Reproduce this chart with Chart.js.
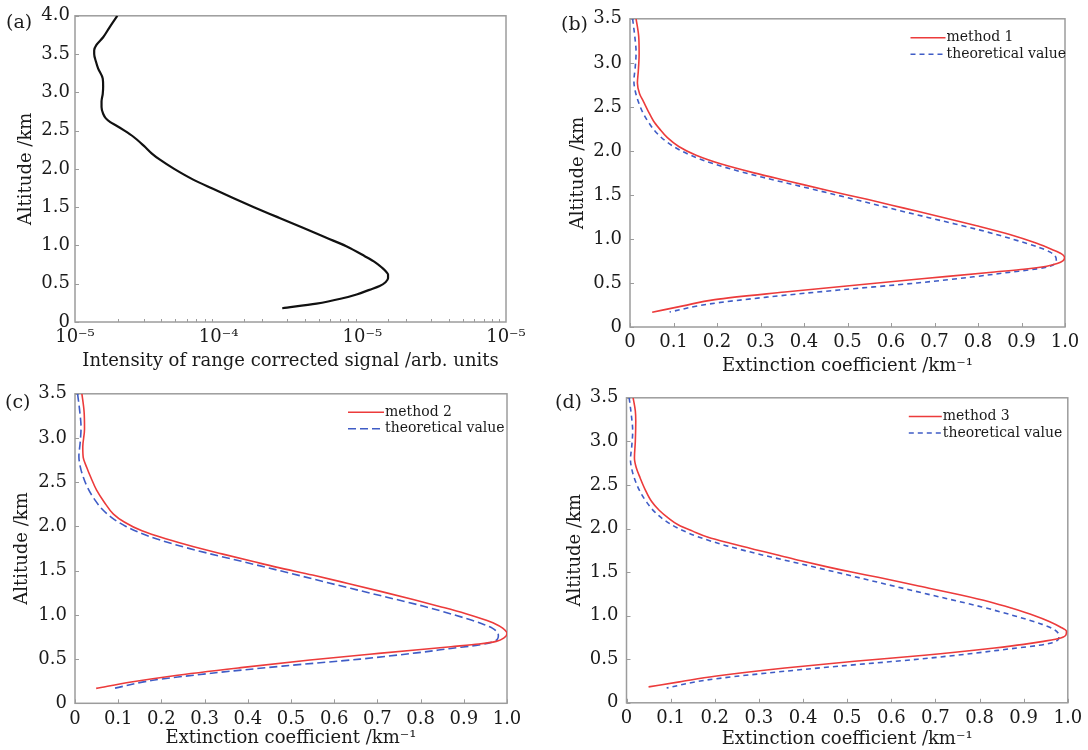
<!DOCTYPE html>
<html lang="en">
<head>
<meta charset="UTF-8">
<title>Lidar extinction profiles</title>
<script src="https://cdn.jsdelivr.net/npm/chart.js"></script>
<style>
  body { margin: 0; background: #fff; }
  #wrap { position: relative; width: 1088px; height: 750px; overflow: hidden; }
  #wrap canvas { position: absolute; }
</style>
</head>
<body>
<div id="wrap">
  <canvas id="chartA" width="540" height="375" style="left:0px;top:0px"></canvas>
  <canvas id="chartB" width="548" height="378" style="left:540px;top:0px"></canvas>
  <canvas id="chartC" width="540" height="375" style="left:0px;top:375px"></canvas>
  <canvas id="chartD" width="548" height="372" style="left:540px;top:378px"></canvas>
</div>
<script>
// (a) range corrected signal vs altitude
const altA = [4.0, 3.85, 3.72, 3.62, 3.55, 3.50, 3.40, 3.31, 3.18, 3.08, 2.98, 2.88, 2.81, 2.72, 2.66, 2.61, 2.57, 2.50, 2.42, 2.30, 2.20, 2.12, 2.0, 1.86, 1.74, 1.62, 1.5, 1.37, 1.23, 1.1, 0.99, 0.86, 0.78, 0.71, 0.66, 0.62, 0.57, 0.52, 0.47, 0.42, 0.36, 0.31, 0.24, 0.18];
const sigA = [1.97e-5, 1.74e-5, 1.57e-5, 1.41e-5, 1.36e-5, 1.36e-5, 1.40e-5, 1.45e-5, 1.56e-5, 1.57e-5, 1.56e-5, 1.53e-5, 1.53e-5, 1.57e-5, 1.64e-5, 1.76e-5, 1.92e-5, 2.21e-5, 2.55e-5, 3.02e-5, 3.43e-5, 3.90e-5, 4.90e-5, 6.65e-5, 9.12e-5, 1.26e-4, 1.76e-4, 2.57e-4, 3.86e-4, 5.62e-4, 7.73e-4, 1.04e-3, 1.23e-3, 1.37e-3, 1.46e-3, 1.51e-3, 1.51e-3, 1.45e-3, 1.32e-3, 1.12e-3, 9.12e-4, 7.29e-4, 4.80e-4, 2.77e-4];
const logLabels = ['10\u207B\u2075', '10\u207B\u2074', '10\u207B\u2075', '10\u207B\u2075'];

// theoretical extinction profile (shared by b, c, d)
const altT = [3.5, 3.3, 3.12, 2.95, 2.79, 2.68, 2.56, 2.43, 2.3, 2.2, 2.1, 2.0, 1.9, 1.8, 1.7, 1.6, 1.5, 1.4, 1.3, 1.2, 1.1, 1.0, 0.9, 0.85, 0.8, 0.76, 0.72, 0.69, 0.66, 0.62, 0.57, 0.5, 0.42, 0.34, 0.26, 0.17];
const extT = [0.006, 0.011, 0.014, 0.012, 0.009, 0.012, 0.019, 0.03, 0.046, 0.062, 0.085, 0.118, 0.165, 0.228, 0.305, 0.39, 0.474, 0.556, 0.638, 0.722, 0.805, 0.878, 0.942, 0.966, 0.978, 0.98, 0.977, 0.965, 0.935, 0.87, 0.79, 0.66, 0.48, 0.316, 0.18, 0.091];

// method 1 (b)
const alt1 = [3.5, 3.3, 3.1, 2.9, 2.77, 2.65, 2.56, 2.45, 2.34, 2.25, 2.15, 2.05, 1.95, 1.85, 1.75, 1.65, 1.55, 1.45, 1.35, 1.25, 1.15, 1.05, 0.95, 0.88, 0.83, 0.79, 0.75, 0.72, 0.69, 0.655, 0.625, 0.55, 0.475, 0.397, 0.311, 0.24, 0.168];
const ext1 = [0.014, 0.02, 0.021, 0.019, 0.017, 0.022, 0.031, 0.042, 0.054, 0.068, 0.086, 0.112, 0.152, 0.21, 0.285, 0.37, 0.455, 0.545, 0.63, 0.715, 0.797, 0.873, 0.935, 0.97, 0.992, 0.999, 0.995, 0.982, 0.958, 0.905, 0.838, 0.677, 0.516, 0.356, 0.195, 0.122, 0.051];

// method 2 (c)
const alt2 = [3.5, 3.3, 3.1, 2.9, 2.78, 2.67, 2.55, 2.41, 2.28, 2.14, 2.05, 1.95, 1.86, 1.77, 1.69, 1.6, 1.54, 1.45, 1.355, 1.26, 1.17, 1.09, 1.016, 0.95, 0.9, 0.85, 0.79, 0.74, 0.70, 0.67, 0.64, 0.565, 0.49, 0.403, 0.309, 0.24, 0.169];
const ext2 = [0.016, 0.021, 0.022, 0.018, 0.019, 0.027, 0.037, 0.05, 0.067, 0.089, 0.114, 0.155, 0.21, 0.275, 0.34, 0.415, 0.466, 0.55, 0.632, 0.712, 0.785, 0.848, 0.903, 0.945, 0.972, 0.99, 1.0, 0.993, 0.975, 0.935, 0.87, 0.703, 0.544, 0.384, 0.225, 0.13, 0.049];

// method 3 (d)
const alt3 = [3.5, 3.35, 3.23, 3.0, 2.81, 2.7, 2.58, 2.45, 2.31, 2.21, 2.12, 2.04, 1.97, 1.9, 1.83, 1.76, 1.70, 1.63, 1.56, 1.5, 1.44, 1.34, 1.24, 1.16, 1.087, 1.0, 0.934, 0.87, 0.82, 0.78, 0.743, 0.705, 0.67, 0.629, 0.545, 0.477, 0.40, 0.305, 0.24, 0.183];
const ext3 = [0.015, 0.02, 0.021, 0.02, 0.018, 0.022, 0.031, 0.042, 0.057, 0.074, 0.095, 0.118, 0.15, 0.185, 0.235, 0.29, 0.34, 0.395, 0.455, 0.51, 0.57, 0.662, 0.755, 0.822, 0.872, 0.925, 0.958, 0.983, 0.997, 0.996, 0.984, 0.945, 0.9, 0.834, 0.675, 0.517, 0.359, 0.2, 0.12, 0.05];

const RED = '#ec3b3b';
const BLUE = '#3f5cc6';
const FRAME = '#9c9c9c';
const SERIF = '"DejaVu Serif", "Liberation Serif", serif';

Chart.defaults.font.family = SERIF;
Chart.defaults.font.size = 18;
Chart.defaults.color = '#1a1a1a';

const pts = (xs, ys) => xs.map((v, i) => ({ x: v, y: ys[i] }));
const isPow10 = v => Math.abs(Math.log10(v) - Math.round(Math.log10(v))) < 1e-6;

// frame, inward ticks, panel letter and legend
const panelDeco = {
  id: 'panelDeco',
  beforeDatasetsDraw(chart, args, o) {
    const { ctx, chartArea: a, scales } = chart;
    ctx.save();
    ctx.strokeStyle = FRAME;
    ctx.lineWidth = 1;
    scales.x.ticks.forEach(t => {
      const px = Math.round(scales.x.getPixelForValue(t.value)) + 0.5;
      const len = o.logX ? (isPow10(t.value) ? 0 : 3) : 4;
      ctx.beginPath(); ctx.moveTo(px, a.bottom); ctx.lineTo(px, a.bottom - len); ctx.stroke();
    });
    scales.y.ticks.forEach(t => {
      const py = Math.round(scales.y.getPixelForValue(t.value)) + 0.5;
      ctx.beginPath(); ctx.moveTo(a.left, py); ctx.lineTo(a.left + 4, py); ctx.stroke();
    });
    ctx.lineWidth = 1.5;
    ctx.strokeRect(a.left, a.top, a.right - a.left, a.bottom - a.top);
    ctx.restore();
  },
  afterDraw(chart, args, o) {
    const { ctx, chartArea: a } = chart;
    ctx.save();
    ctx.fillStyle = '#1a1a1a';
    ctx.font = '19px ' + SERIF;
    ctx.textBaseline = 'middle';
    ctx.textAlign = 'left';
    ctx.fillText(o.letter, o.letterX, o.letterY);
    if (o.legend) {
      ctx.font = '14px ' + SERIF;
      chart.data.datasets.forEach((ds, i) => {
        const x0 = a.right - o.legend.dx;
        const y = a.top + o.legend.dy + i * 16.5;
        ctx.strokeStyle = ds.borderColor;
        ctx.lineWidth = ds.borderWidth;
        ctx.setLineDash(ds.borderDash || []);
        ctx.beginPath(); ctx.moveTo(x0, y); ctx.lineTo(x0 + o.legend.len, y); ctx.stroke();
        ctx.setLineDash([]);
        ctx.fillText(ds.label, x0 + o.legend.len + 1, y);
      });
    }
    ctx.restore();
  }
};

function makeChart(id, cfg) {
  const cv = document.getElementById(id);
  return new Chart(cv, {
    type: 'line',
    data: { datasets: cfg.datasets },
    options: {
      responsive: false,
      animation: false,
      indexAxis: 'y',
      layout: { padding: { left: 0, top: cfg.area.top, right: cv.width - cfg.area.right, bottom: 0 } },
      elements: { point: { radius: 0 }, line: { cubicInterpolationMode: 'monotone' } },
      plugins: {
        legend: { display: false },
        tooltip: { enabled: false },
        panelDeco: cfg.deco
      },
      scales: {
        x: Object.assign({
          position: 'bottom',
          grid: { display: false, drawTicks: false },
          border: { display: false },
          afterFit: s => { s.height = cv.height - cfg.area.bottom; }
        }, cfg.x),
        y: {
          type: 'linear',
          position: 'left',
          min: 0,
          max: cfg.yMax,
          grid: { display: false, drawTicks: false },
          border: { display: false },
          ticks: { stepSize: 0.5, padding: cfg.yTickPad, callback: v => v === 0 ? '0' : v.toFixed(1) },
          title: { display: true, text: 'Altitude /km', font: { size: 18 }, padding: { top: cfg.yTitlePad, bottom: 0 } },
          afterFit: s => { s.width = cfg.area.left; }
        }
      }
    },
    plugins: [panelDeco]
  });
}

function extX(pad) {
  return {
    type: 'linear',
    min: 0,
    max: 1,
    ticks: { stepSize: 0.1, padding: 5, maxRotation: 0, autoSkip: false, callback: v => v === 0 ? '0' : v.toFixed(1) },
    title: { display: true, text: 'Extinction coefficient /km\u207B\u00B9', font: { size: 18 }, padding: { top: 0, bottom: pad } }
  };
}

function pair(xs, ys, label, dash) {
  return [
    { label: label, data: pts(xs, ys), borderColor: RED, borderWidth: 1.6, fill: false },
    { label: 'theoretical value', data: pts(extT, altT), borderColor: BLUE, borderWidth: 1.6, borderDash: dash, fill: false }
  ];
}

makeChart('chartA', {
  area: { left: 75, top: 13.5, right: 506, bottom: 322 },
  yMax: 4,
  yTitlePad: 16,
  yTickPad: 5,
  datasets: [{ label: 'signal', data: pts(sigA, altA), borderColor: '#111', borderWidth: 2.2, fill: false }],
  x: {
    type: 'logarithmic',
    min: 1e-5,
    max: 1e-2,
    ticks: {
      padding: 5, maxRotation: 0, autoSkip: false,
      callback: v => isPow10(v) ? logLabels[Math.round(Math.log10(v)) + 5] : ''
    },
    title: { display: true, text: 'Intensity of range corrected signal /arb. units', font: { size: 18 }, padding: { top: 0, bottom: 3 } }
  },
  deco: { logX: true, letter: '(a)', letterX: 6, letterY: 23 }
});

makeChart('chartB', {
  area: { left: 90, top: 14.7, right: 525, bottom: 327 },
  yMax: 3.5,
  yTitlePad: 28,
  yTickPad: 8,
  datasets: pair(ext1, alt1, 'method 1', [5, 4]),
  x: extX(1),
  deco: { letter: '(b)', letterX: 21, letterY: 25, legend: { dx: 154.5, dy: 19, len: 35 } }
});

makeChart('chartC', {
  area: { left: 75, top: 18.3, right: 507, bottom: 328.3 },
  yMax: 3.5,
  yTitlePad: 12,
  yTickPad: 8,
  datasets: pair(ext2, alt2, 'method 2', [8, 4]),
  x: extX(1),
  deco: { letter: '(c)', letterX: 5, letterY: 28, legend: { dx: 159, dy: 18.4, len: 36 } }
});

makeChart('chartD', {
  area: { left: 86.5, top: 19.8, right: 527.8, bottom: 324.8 },
  yMax: 3.5,
  yTitlePad: 25,
  yTickPad: 8,
  datasets: pair(ext3, alt3, 'method 3', [5, 4]),
  x: extX(0),
  deco: { letter: '(d)', letterX: 15, letterY: 25, legend: { dx: 159, dy: 18.7, len: 33 } }
});
</script>
</body>
</html>
